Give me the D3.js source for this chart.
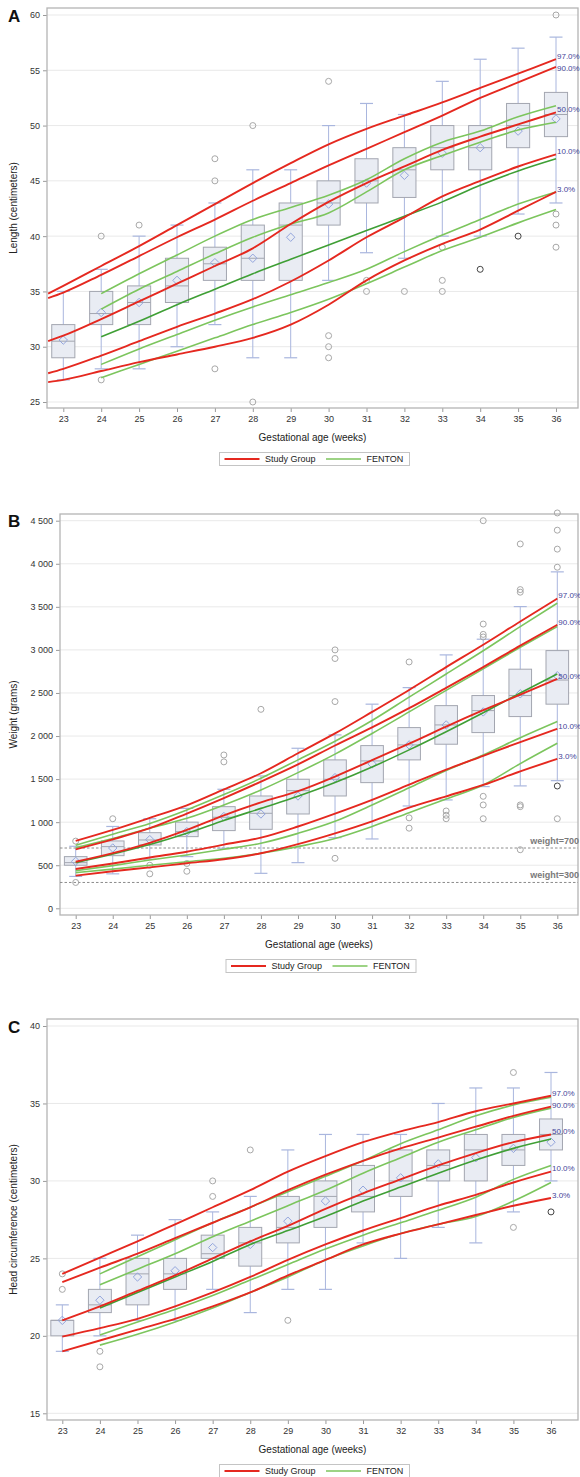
<!DOCTYPE html>
<html>
<head>
<meta charset="utf-8">
<script src="https://cdn.jsdelivr.net/npm/d3@7"></script>
<style>
  body { margin: 0; background: #fff; }
  svg { display: block; font-family: "Liberation Sans", Arial, sans-serif; }
</style>
</head>
<body>
<script>
// ---- data -------------------------------------------------------------
var weeks = [23, 24, 25, 26, 27, 28, 29, 30, 31, 32, 33, 34, 35, 36];
var fentonWeeks = [24, 25, 26, 27, 28, 29, 30, 31, 32, 33, 34, 35, 36];
var lengthStudyWeeks = [22.6, 23, 24, 25, 26, 27, 28, 29, 30, 31, 32, 33, 34, 35, 36];
var pctNames = ["97.0%", "90.0%", "50.0%", "10.0%", "3.0%"];

var lengthTicks = [25, 30, 35, 40, 45, 50, 55, 60];
var weightTicks = [0, 500, 1000, 1500, 2000, 2500, 3000, 3500, 4000, 4500];
var headTicks = [15, 20, 25, 30, 35, 40];

// box rows: week, lower whisker, q1, median, q3, upper whisker, mean
var lengthBoxes = [
  [23, 27, 29, 30.5, 32, 35, 30.6], [24, 28, 32, 33, 35, 37, 33.1],
  [25, 28, 32, 34, 35.5, 40, 34], [26, 30, 34, 35.5, 38, 41, 36],
  [27, 32, 36, 37.5, 39, 43, 37.6], [28, 29, 36, 38, 41, 46, 38],
  [29, 29, 36, 41, 43, 46, 39.9], [30, 36, 41, 43, 45, 50, 42.9],
  [31, 38.5, 43, 45, 47, 52, 44.8], [32, 38, 43.5, 46, 48, 51, 45.5],
  [33, 40, 46, 48, 50, 54, 47.5], [34, 40, 46, 48, 50, 56, 48],
  [35, 42, 48, 50, 52, 57, 49.5], [36, 43, 49, 51, 53, 58, 50.6]
];
// outliers: week, value, count
var lengthOutliers = [
  [24, 40, 1], [24, 27, 1], [25, 41, 1], [27, 47, 1], [27, 45, 1], [27, 28, 1],
  [28, 50, 1], [28, 25, 1], [30, 54, 1], [30, 31, 1], [30, 30, 1], [30, 29, 1],
  [31, 36, 1], [31, 35, 1], [32, 35, 1], [33, 39, 1], [33, 36, 1], [33, 35, 1],
  [34, 37, 2], [35, 40, 2], [36, 60, 1], [36, 42, 1], [36, 41, 1], [36, 39, 1]
];
var lengthStudy = [
  [34.8, 35.5, 37.3, 39.1, 41.0, 42.9, 44.8, 46.6, 48.3, 49.7, 50.9, 52.1, 53.4, 54.7, 56.0],
  [34.4, 34.9, 36.5, 38.2, 39.9, 41.5, 43.2, 44.8, 46.4, 47.9, 49.4, 50.9, 52.5, 53.9, 55.3],
  [30.5, 31.0, 32.5, 34.1, 35.7, 37.3, 38.9, 41.1, 43.1, 44.8, 46.3, 47.8, 49.0, 50.1, 51.2],
  [27.6, 28.0, 29.2, 30.5, 31.8, 33.0, 34.3, 35.9, 37.8, 39.9, 41.7, 43.6, 45.0, 46.3, 47.4],
  [26.8, 27.0, 27.8, 28.6, 29.3, 30.0, 30.8, 32.0, 33.8, 36.0, 37.8, 39.3, 40.6, 42.3, 44.0]
];
var lengthFenton = [
  [34.8, 36.6, 38.3, 40.0, 41.5, 42.6, 43.7, 45.1, 47.0, 48.5, 49.5, 50.8, 51.8],
  [33.4, 35.2, 36.8, 38.4, 39.9, 41.1, 42.1, 44.0, 46.0, 47.3, 48.5, 49.6, 50.3],
  [30.9, 32.3, 33.8, 35.2, 36.6, 37.9, 39.2, 40.5, 41.8, 43.1, 44.6, 45.9, 47.0],
  [28.4, 29.8, 31.1, 32.4, 33.6, 34.7, 35.8, 37.0, 38.6, 40.1, 41.5, 42.9, 44.0],
  [27.2, 28.4, 29.6, 30.8, 32.0, 33.1, 34.3, 35.7, 37.2, 38.7, 39.9, 41.2, 42.4]
];

var weightBoxes = [
  [23, 370, 500, 530, 600, 720, 545], [24, 400, 611, 716, 782, 950, 700],
  [25, 570, 735, 793, 878, 1040, 797], [26, 600, 832, 890, 1000, 1160, 890],
  [27, 697, 902, 1057, 1180, 1382, 1065], [28, 406, 917, 1103, 1304, 1537, 1095],
  [29, 530, 1095, 1366, 1498, 1858, 1304], [30, 820, 1304, 1498, 1723, 2013, 1517],
  [31, 805, 1459, 1711, 1889, 2370, 1676], [32, 1188, 1723, 1897, 2098, 2562, 1897],
  [33, 1258, 1905, 2129, 2353, 2942, 2129], [34, 1413, 2040, 2295, 2470, 3124, 2280],
  [35, 1421, 2226, 2470, 2776, 3503, 2490], [36, 1482, 2370, 2650, 2992, 3906, 2700]
];
var weightOutliers = [
  [23, 780, 1], [23, 300, 1], [24, 1040, 1], [25, 500, 1], [25, 400, 1],
  [26, 520, 1], [26, 430, 1], [27, 1780, 1], [27, 1700, 1], [28, 2310, 1],
  [30, 3000, 1], [30, 2900, 1], [30, 2400, 1], [30, 580, 1],
  [32, 2860, 1], [32, 1050, 1], [32, 930, 1], [33, 1130, 1], [33, 1080, 1], [33, 1040, 1],
  [34, 4500, 1], [34, 3300, 1], [34, 3180, 1], [34, 3150, 1], [34, 1300, 1], [34, 1200, 1], [34, 1040, 1],
  [35, 4230, 1], [35, 3700, 1], [35, 3670, 1], [35, 1200, 1], [35, 1180, 1], [35, 680, 1],
  [36, 4590, 1], [36, 4390, 1], [36, 4170, 1], [36, 3960, 1], [36, 1420, 2], [36, 1040, 1]
];
var weightStudy = [
  [782, 910, 1050, 1195, 1380, 1568, 1800, 2030, 2280, 2535, 2800, 3060, 3330, 3596],
  [685, 800, 930, 1100, 1280, 1470, 1670, 1890, 2100, 2323, 2560, 2800, 3050, 3291],
  [540, 640, 760, 910, 1080, 1230, 1360, 1530, 1720, 1911, 2110, 2300, 2480, 2664],
  [456, 520, 590, 657, 740, 820, 950, 1100, 1260, 1436, 1610, 1770, 1930, 2083],
  [379, 430, 475, 523, 570, 639, 745, 870, 1010, 1169, 1300, 1432, 1590, 1734]
];
var weightFenton = [
  [731, 860, 985, 1142, 1320, 1510, 1723, 1940, 2180, 2451, 2720, 2990, 3270, 3543],
  [704, 810, 930, 1045, 1200, 1374, 1575, 1790, 2030, 2280, 2530, 2780, 3030, 3271],
  [530, 630, 740, 871, 1020, 1160, 1300, 1460, 1640, 1839, 2050, 2270, 2500, 2722],
  [437, 495, 560, 619, 685, 755, 870, 1010, 1200, 1400, 1600, 1780, 1980, 2168],
  [414, 455, 500, 541, 580, 639, 716, 810, 950, 1110, 1270, 1432, 1680, 1916]
];
var weightRefs = [700, 300];

var headBoxes = [
  [23, 19, 20, 21, 21, 22, 21.0], [24, 20, 21.5, 22, 23, 25, 22.3],
  [25, 21, 22, 24, 25, 26.5, 23.8], [26, 21, 23, 24, 25, 27.5, 24.2],
  [27, 23, 25, 25.3, 26.5, 28, 25.7], [28, 21.5, 24.5, 26, 27, 29, 25.9],
  [29, 23, 26, 27, 29, 32, 27.4], [30, 23, 27, 29, 30, 33, 28.7],
  [31, 26, 28, 29, 31, 33, 29.4], [32, 25, 29, 30, 32, 33, 30.2],
  [33, 27, 30, 31, 32, 35, 31.1], [34, 26, 30, 32, 33, 36, 31.5],
  [35, 28, 31, 32, 33, 36, 32.1], [36, 30, 32, 33, 34, 37, 32.5]
];
var headOutliers = [
  [23, 24, 1], [23, 23, 1], [24, 19, 1], [24, 18, 1], [27, 30, 1], [27, 29, 1],
  [28, 32, 1], [29, 21, 1], [35, 37, 1], [35, 27, 1], [36, 28, 2]
];
var headStudy = [
  [24.0, 25.05, 26.1, 27.2, 28.3, 29.4, 30.6, 31.6, 32.5, 33.2, 33.8, 34.5, 35.0, 35.5],
  [23.46, 24.4, 25.3, 26.3, 27.3, 28.3, 29.4, 30.4, 31.3, 32.1, 32.8, 33.5, 34.2, 34.8],
  [21.0, 21.9, 22.9, 23.9, 25.0, 26.1, 27.1, 28.2, 29.2, 30.1, 31.0, 31.8, 32.5, 33.0],
  [19.95, 20.5, 21.1, 21.9, 22.8, 23.8, 24.9, 25.9, 26.8, 27.6, 28.4, 29.1, 29.9, 30.6],
  [19.0, 19.7, 20.4, 21.1, 21.9, 22.8, 23.9, 24.9, 25.9, 26.6, 27.2, 27.8, 28.4, 28.9]
];
var headFenton = [
  [24.0, 25.1, 26.2, 27.3, 28.3, 29.3, 30.3, 31.3, 32.4, 33.3, 34.2, 34.9, 35.4],
  [23.3, 24.3, 25.3, 26.4, 27.4, 28.4, 29.4, 30.5, 31.5, 32.5, 33.3, 34.1, 34.7],
  [21.8, 22.8, 23.8, 24.8, 25.9, 26.8, 27.7, 28.7, 29.6, 30.5, 31.35, 32.1, 32.7],
  [20.05, 20.9, 21.7, 22.6, 23.6, 24.6, 25.6, 26.5, 27.3, 28.1, 28.95, 30.1, 31.0],
  [19.4, 20.1, 20.9, 21.8, 22.8, 23.8, 24.9, 25.8, 26.6, 27.2, 27.7, 28.7, 29.9]
];

// ---- styles ------------------------------------------------------------
var RED = "#e5281f", GREEN = "#7cc55d", DKGREEN = "#3f9f35";
var BOXFILL = "#e9ecf3", BOXLINE = "#a3a6b0", WHISK = "#a9b6de", MEANC = "#93a5dc";
var spaceFmt = d3.formatLocale({decimal: ".", thousands: " ", grouping: [3], currency: ["", ""]}).format(",d");

var svg = d3.select("body").append("svg")
    .attr("width", 580)
    .attr("height", 1477);

var panels = [
  {letter: "A", letterY: 22, ytitle: "Length (centimeters)",
   frame: {l: 47, t: 8, r: 578, b: 408}, xr: [63.3, 556], ydom: [25, 60], yr: [402, 15],
   ticks: lengthTicks, fmt: d3.format("d"), boxes: lengthBoxes, outliers: lengthOutliers,
   studyWeeks: lengthStudyWeeks, study: lengthStudy, fentonWeeks: fentonWeeks, fenton: lengthFenton, refs: []},
  {letter: "B", letterY: 527, ytitle: "Weight (grams)",
   frame: {l: 60, t: 514, r: 578, b: 915}, xr: [75.7, 557.3], ydom: [0, 4500], yr: [908.3, 520.7],
   ticks: weightTicks, fmt: spaceFmt, boxes: weightBoxes, outliers: weightOutliers,
   studyWeeks: weeks, study: weightStudy, fentonWeeks: weeks, fenton: weightFenton, refs: weightRefs},
  {letter: "C", letterY: 1033, ytitle: "Head circumference (centimeters)",
   frame: {l: 47, t: 1019, r: 578, b: 1420}, xr: [62.3, 551], ydom: [15, 40], yr: [1413.3, 1026],
   ticks: headTicks, fmt: d3.format("d"), boxes: headBoxes, outliers: headOutliers,
   studyWeeks: weeks, study: headStudy, fentonWeeks: fentonWeeks, fenton: headFenton, refs: []}
];

panels.forEach(drawPanel);

function drawPanel(p) {
  var f = p.frame;
  var x = d3.scaleLinear().domain([23, 36]).range(p.xr);
  var y = d3.scaleLinear().domain(p.ydom).range(p.yr);
  var g = svg.append("g");
  var bw = (x(24) - x(23)) * 0.61;

  // grid
  g.selectAll(".grid").data(p.ticks).enter().append("line")
      .attr("x1", f.l).attr("x2", f.r)
      .attr("y1", function(d) { return y(d); }).attr("y2", function(d) { return y(d); })
      .style("stroke", "#e9e9e9").style("stroke-width", 1);

  // y axis
  var yAxis = d3.axisLeft(y).tickValues(p.ticks).tickFormat(p.fmt).tickSize(4).tickPadding(3);
  var ya = g.append("g").attr("transform", "translate(" + f.l + ",0)").call(yAxis);
  ya.select(".domain").remove();
  ya.selectAll("line").style("stroke", "#9a9a9a");
  ya.selectAll("text").style("font-size", "9px").style("fill", "#333");

  // x axis
  var xAxis = d3.axisBottom(x).tickValues(weeks).tickFormat(d3.format("d")).tickSize(4).tickPadding(4);
  var xa = g.append("g").attr("transform", "translate(0," + f.b + ")").call(xAxis);
  xa.select(".domain").remove();
  xa.selectAll("line").style("stroke", "#9a9a9a");
  xa.selectAll("text").style("font-size", "9px").style("fill", "#333");

  // frame
  g.append("rect").attr("x", f.l).attr("y", f.t).attr("width", f.r - f.l).attr("height", f.b - f.t)
      .style("fill", "none").style("stroke", "#b4b4b4").style("stroke-width", 1.3);

  // reference lines (weight)
  p.refs.forEach(function(v) {
    g.append("line").attr("x1", f.l).attr("x2", f.r).attr("y1", y(v)).attr("y2", y(v))
        .style("stroke", "#8c8c8c").style("stroke-dasharray", "2.5,2").style("stroke-width", 1);
    g.append("text").attr("x", 579).attr("y", y(v) - 4).attr("text-anchor", "end")
        .style("font-size", "9px").style("font-weight", "bold").style("fill", "#7a7a7a")
        .text("weight=" + v);
  });

  // boxes
  var bx = g.selectAll(".box").data(p.boxes).enter().append("g");
  bx.append("line")
      .attr("x1", function(d) { return x(d[0]); }).attr("x2", function(d) { return x(d[0]); })
      .attr("y1", function(d) { return y(d[1]); }).attr("y2", function(d) { return y(d[5]); })
      .style("stroke", WHISK).style("stroke-width", 1);
  [1, 5].forEach(function(k) {
    bx.append("line")
        .attr("x1", function(d) { return x(d[0]) - 6.5; }).attr("x2", function(d) { return x(d[0]) + 6.5; })
        .attr("y1", function(d) { return y(d[k]); }).attr("y2", function(d) { return y(d[k]); })
        .style("stroke", WHISK).style("stroke-width", 1.2);
  });
  bx.append("rect")
      .attr("x", function(d) { return x(d[0]) - bw / 2; }).attr("width", bw)
      .attr("y", function(d) { return y(d[4]); })
      .attr("height", function(d) { return Math.max(0.5, y(d[2]) - y(d[4])); })
      .style("fill", BOXFILL).style("stroke", BOXLINE).style("stroke-width", 1);
  bx.append("line")
      .attr("x1", function(d) { return x(d[0]) - bw / 2; }).attr("x2", function(d) { return x(d[0]) + bw / 2; })
      .attr("y1", function(d) { return y(d[3]); }).attr("y2", function(d) { return y(d[3]); })
      .style("stroke", BOXLINE).style("stroke-width", 1);
  bx.append("path")
      .attr("d", function(d) {
        var cx = x(d[0]), cy = y(d[6]), s = 4.2;
        return "M" + cx + "," + (cy - s) + "L" + (cx + s) + "," + cy + "L" + cx + "," + (cy + s) + "L" + (cx - s) + "," + cy + "Z";
      })
      .style("fill", "none").style("stroke", MEANC).style("stroke-width", 1);

  g.selectAll(".out").data(p.outliers).enter().append("circle")
      .attr("cx", function(d) { return x(d[0]); })
      .attr("cy", function(d) { return y(d[1]); })
      .attr("r", 3)
      .style("fill", "none")
      .style("stroke", function(d) { return d[2] > 1 ? "#444" : "#a8a8a8"; })
      .style("stroke-width", 1);

  // percentile curves
  var line = d3.line().curve(d3.curveMonotoneX);
  p.fenton.forEach(function(vals, i) {
    g.append("path")
        .attr("d", line(vals.map(function(v, j) { return [x(p.fentonWeeks[j]), y(v)]; })))
        .style("fill", "none").style("stroke", i === 2 ? DKGREEN : GREEN).style("stroke-width", 1.6);
  });
  p.study.forEach(function(vals) {
    g.append("path")
        .attr("d", line(vals.map(function(v, j) { return [x(p.studyWeeks[j]), y(v)]; })))
        .style("fill", "none").style("stroke", RED).style("stroke-width", 1.9);
  });

  // percentile labels
  var prev = -1e9;
  p.study.forEach(function(vals, i) {
    var ly = y(vals[vals.length - 1]) - 3;
    if (ly < prev + 12) ly = prev + 12;
    prev = ly;
    g.append("text").attr("x", x(36) + 1).attr("y", ly).attr("dy", "0.35em")
        .style("font-size", "8px").style("fill", "#45459a").text(pctNames[i]);
  });

  // titles
  g.append("text").attr("x", 8).attr("y", p.letterY)
      .style("font-size", "17px").style("font-weight", "bold").style("fill", "#111").text(p.letter);
  g.append("text").attr("transform", "translate(17," + ((f.t + f.b) / 2) + ")rotate(-90)")
      .attr("text-anchor", "middle").style("font-size", "10px").style("fill", "#222").text(p.ytitle);
  g.append("text").attr("x", (f.l + f.r) / 2).attr("y", f.b + 33)
      .attr("text-anchor", "middle").style("font-size", "10px").style("fill", "#222")
      .text("Gestational age (weeks)");

  // legend
  var lx = (f.l + f.r) / 2 + 2 - 95, ly0 = f.b + 51;
  var lg = g.append("g");
  lg.append("rect").attr("x", lx).attr("y", ly0 - 6.5).attr("width", 190).attr("height", 13)
      .style("fill", "#fff").style("stroke", "#c4c4c4");
  lg.append("line").attr("x1", lx + 5).attr("x2", lx + 40).attr("y1", ly0).attr("y2", ly0)
      .style("stroke", RED).style("stroke-width", 1.9);
  lg.append("text").attr("x", lx + 45.5).attr("y", ly0).attr("dy", "0.35em")
      .style("font-size", "9px").style("fill", "#222").text("Study Group");
  lg.append("line").attr("x1", lx + 106.5).attr("x2", lx + 141.5).attr("y1", ly0).attr("y2", ly0)
      .style("stroke", GREEN).style("stroke-width", 1.6);
  lg.append("text").attr("x", lx + 147).attr("y", ly0).attr("dy", "0.35em")
      .style("font-size", "9px").style("fill", "#222").text("FENTON");
}
</script>
</body>
</html>
